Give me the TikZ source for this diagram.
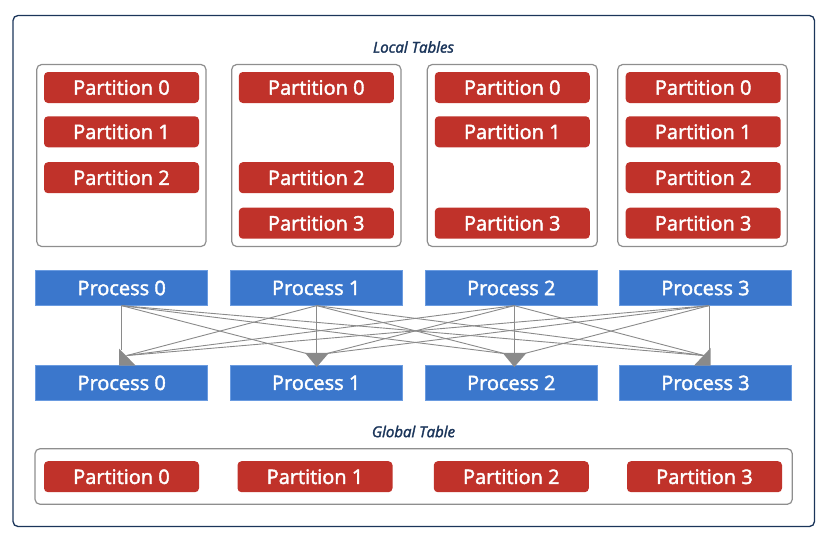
\documentclass[tikz,border=0pt]{standalone}
\usepackage{fontspec}
\setmainfont{Open Sans}
\newfontfamily\semib{Open Sans}[FakeBold=2]
\usetikzlibrary{calc}
\definecolor{pillred}{HTML}{C0322A}
\definecolor{procblue}{HTML}{3B77CC}
\definecolor{procedge}{HTML}{6A9BE0}
\definecolor{navy}{HTML}{1B355A}
\definecolor{boxgrey}{HTML}{8E8E8E}
\definecolor{linegrey}{HTML}{8A8A8A}
\begin{document}
\begin{tikzpicture}[x=1pt,y=-1pt,
  pill/.style={fill=pillred, rounded corners=4pt, minimum width=155pt, minimum height=31pt, inner sep=0pt, text=white, font=\semib\fontsize{20}{24}\selectfont},
  proc/.style={fill=procblue, draw=procedge, line width=0.8pt, minimum width=172pt, minimum height=34.5pt, inner sep=0pt, text=white, font=\semib\fontsize{20}{24}\selectfont},
  tbox/.style={draw=boxgrey, line width=1.2pt, rounded corners=5pt},
  caption/.style={text=navy, font=\semib\fontsize{15}{18}\selectfont\itshape},
  conn/.style={draw=linegrey, line width=0.9pt},
  tiphead/.style={fill=linegrey}]
\useasboundingbox (0,0) rectangle (825,541);
% outer frame
\draw[navy, line width=1.3pt, rounded corners=5pt] (13,15.5) rectangle (814.5,526.5);
% captions
\node[caption] (lt) at (413.5,47) {Local Tables};
\node[caption] (gt) at (413.5,431.5) {Global Table};
% local table boxes
\draw[tbox] (36.7,64.5) rectangle (206,246.5);
\draw[tbox] (231.7,64.5) rectangle (401,246.5);
\draw[tbox] (427.3,64.5) rectangle (597.3,246.5);
\draw[tbox] (617.7,64.5) rectangle (787.3,246.5);
% local partitions
\node[pill] (l00) at (121.5,87.5) {Partition 0};
\node[pill] (l01) at (121.5,131.8) {Partition 1};
\node[pill] (l02) at (121.5,177.7) {Partition 2};
\node[pill] (l10) at (316.3,87.5) {Partition 0};
\node[pill] (l12) at (316.3,177.7) {Partition 2};
\node[pill] (l13) at (316.3,223.2) {Partition 3};
\node[pill] (l20) at (512.3,87.5) {Partition 0};
\node[pill] (l21) at (512.3,131.8) {Partition 1};
\node[pill] (l23) at (512.3,223.2) {Partition 3};
\node[pill] (l30) at (703.2,87.5) {Partition 0};
\node[pill] (l31) at (703.2,131.8) {Partition 1};
\node[pill] (l32) at (703.2,177.7) {Partition 2};
\node[pill] (l33) at (703.2,223.2) {Partition 3};
% processes
\node[proc] (t0) at (121.7,288) {Process 0};
\node[proc] (t1) at (316.2,288) {Process 1};
\node[proc] (t2) at (511.3,288) {Process 2};
\node[proc] (t3) at (705.5,288) {Process 3};
\node[proc] (b0) at (121.7,382.9) {Process 0};
\node[proc] (b1) at (316.2,382.9) {Process 1};
\node[proc] (b2) at (511.3,382.9) {Process 2};
\node[proc] (b3) at (705.5,382.9) {Process 3};
% anchors
\coordinate (ta0) at (t0.south);
\coordinate (ta1) at ($(t1.south)+(0.5,0)$);
\coordinate (ta2) at ($(t2.south)+(3,0)$);
\coordinate (ta3) at ($(t3.south)+(3.5,0)$);
\coordinate (ba0) at ($(b0.north)+(0,0.3)$);
\coordinate (ba1) at ($(b1.north)+(0.5,0.3)$);
\coordinate (ba2) at ($(b2.north)+(3,0.3)$);
\coordinate (ba3) at ($(b3.north)+(3.5,0.3)$);
% connector ends
\coordinate (v0) at ($(ba0)+(0,-16)$);
\coordinate (r0) at ($(ba0)+(5,-10)$);
\coordinate (v1) at ($(ba1)+(0,-12)$);
\coordinate (l1) at ($(ba1)+(-10,-12)$);
\coordinate (r1) at ($(ba1)+(10,-12)$);
\coordinate (v2) at ($(ba2)+(0,-12)$);
\coordinate (l2) at ($(ba2)+(-10,-12)$);
\coordinate (r2) at ($(ba2)+(10,-12)$);
\coordinate (v3) at ($(ba3)+(0,-16)$);
\coordinate (l3) at ($(ba3)+(-5,-10)$);
% connectors
\draw[conn] (ta0) -- (v0);
\draw[conn] (ta0) -- (l1);
\draw[conn] (ta0) -- (l2);
\draw[conn] (ta0) -- (l3);
\draw[conn] (ta1) -- (r0);
\draw[conn] (ta1) -- (v1);
\draw[conn] (ta1) -- (l2);
\draw[conn] (ta1) -- (l3);
\draw[conn] (ta2) -- (r0);
\draw[conn] (ta2) -- (r1);
\draw[conn] (ta2) -- (v2);
\draw[conn] (ta2) -- (l3);
\draw[conn] (ta3) -- (r0);
\draw[conn] (ta3) -- (r1);
\draw[conn] (ta3) -- (r2);
\draw[conn] (ta3) -- (v3);
% arrowheads
\fill[tiphead] ($(ba0)+(-2.7,-17)$) -- ($(ba0)+(-2.7,0)$) -- ($(ba0)+(14,0)$) -- cycle;
\fill[tiphead] ($(ba1)+(-11.7,-12.7)$) -- ($(ba1)+(12.3,-12.7)$) -- ($(ba1)+(0,1.5)$) -- cycle;
\fill[tiphead] ($(ba2)+(-11.7,-12.7)$) -- ($(ba2)+(12.3,-12.7)$) -- ($(ba2)+(0,1.5)$) -- cycle;
\fill[tiphead] ($(ba3)+(1.7,-17.7)$) -- ($(ba3)+(1.7,0)$) -- ($(ba3)+(-15,0)$) -- cycle;
% global table
\draw[tbox] (35,448.7) rectangle (792.3,504.3);
\node[pill] (g0) at (121.5,476.7) {Partition 0};
\node[pill] (g1) at (315,476.7) {Partition 1};
\node[pill] (g2) at (511.3,476.7) {Partition 2};
\node[pill] (g3) at (704.5,476.7) {Partition 3};
\end{tikzpicture}
\end{document}
